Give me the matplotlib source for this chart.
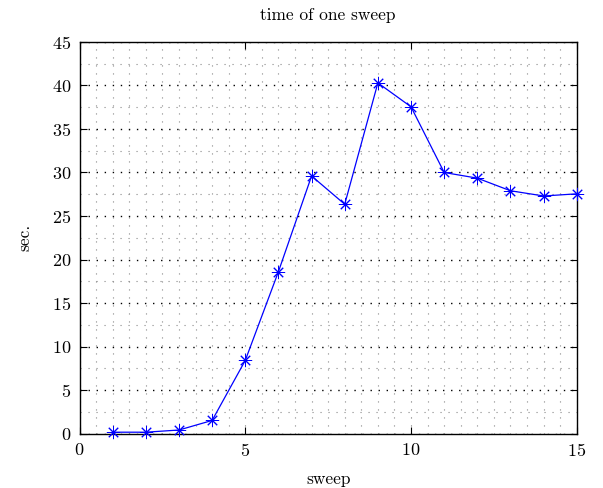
import matplotlib
matplotlib.use("Agg")
import matplotlib.pyplot as plt
from matplotlib.ticker import MultipleLocator

sweep = [1, 2, 3, 4, 5, 6, 7, 8, 9, 10, 11, 12, 13, 14, 15]
seconds = [0.15, 0.15, 0.4, 1.5, 8.4, 18.6, 29.6, 26.35, 40.3, 37.55, 30.0, 29.35, 27.9, 27.3, 27.55]
x_ticks = [0, 5, 10, 15]
y_ticks = [0, 5, 10, 15, 20, 25, 30, 35, 40, 45]

plt.rcParams['font.family'] = ['cmr10', 'DejaVu Serif']
plt.rcParams['axes.formatter.use_mathtext'] = True
plt.rcParams['mathtext.fontset'] = 'cm'

fig = plt.figure(figsize=(6.03, 4.88), dpi=100)
ax = fig.add_axes([79.5 / 603, (488 - 433.5) / 488, (576.8 - 79.5) / 603, (433.5 - 42) / 488])

ax.plot(sweep, seconds, color='#0000ff', lw=0.9, marker=(8, 2, 0), markersize=9.5,
        markeredgewidth=0.7, zorder=3, clip_on=False)

ax.set_xlim(0, 15)
ax.set_ylim(0, 45)
ax.set_xticks(x_ticks)
ax.set_yticks(y_ticks)
ax.xaxis.set_minor_locator(MultipleLocator(0.5))
ax.yaxis.set_minor_locator(MultipleLocator(2.5))

ax.yaxis.grid(True, which='major', color='black', linestyle=(0, (1, 4.8)), linewidth=1.0)
ax.xaxis.grid(True, which='major', color='#777777', linestyle=(0, (1, 6.2)), linewidth=0.8)
ax.grid(which='minor', color='#888888', linestyle=(0, (1, 6.2)), linewidth=0.8)
ax.set_axisbelow(True)

ax.tick_params(which='major', direction='in', length=5, width=0.8, top=True, right=True,
               labelsize=13, pad=6)
ax.tick_params(which='minor', length=0, top=True, right=True)
for s in ax.spines.values():
    s.set_linewidth(1.0)

ax.set_title('time of one sweep', fontsize=12.5, pad=16)
ax.set_xlabel('sweep', fontsize=12.5, labelpad=9)
ax.set_ylabel('sec.', fontsize=12.5, labelpad=14)

fig.savefig('out.png', dpi=100)
